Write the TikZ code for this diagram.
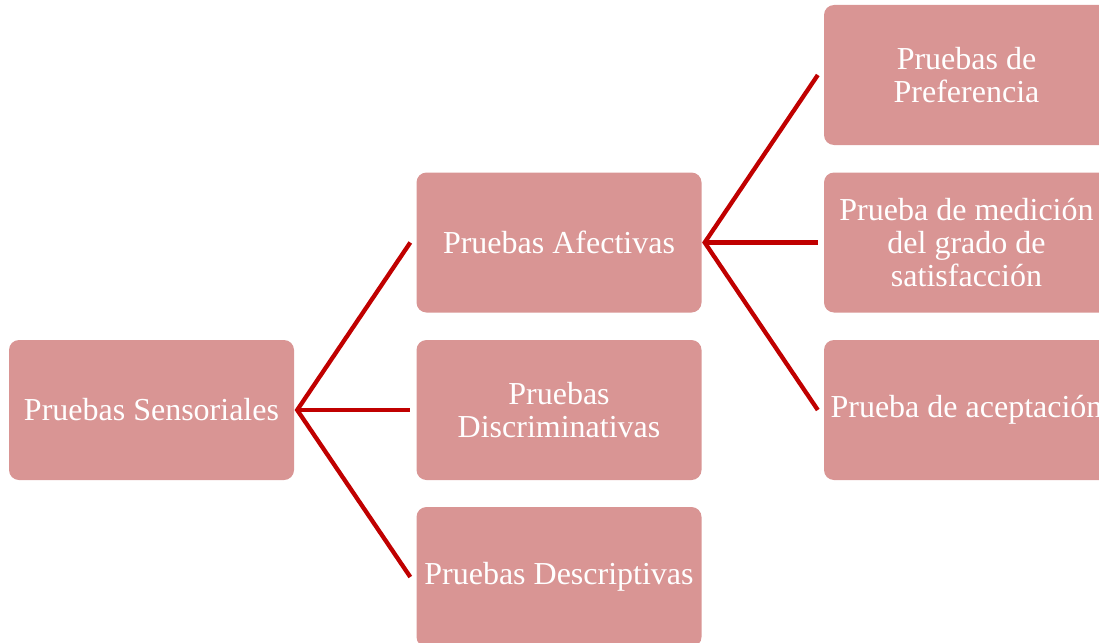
\documentclass[tikz,border=0pt]{standalone}
\usepackage{fontspec}
\setmainfont{Liberation Serif}

\definecolor{boxfill}{HTML}{D99594}
\definecolor{linkred}{HTML}{C00000}

\tikzset{box/.style={rectangle, rounded corners=10pt, fill=boxfill, text=white,
		minimum width=285pt, minimum height=140pt, inner sep=0pt, align=center,
		font=\fontsize{32}{33}\selectfont}}
\tikzset{link/.style={draw=linkred, line width=4.3pt}}

\begin{document}
\begin{tikzpicture}[x=1pt, y=-1pt]
			\useasboundingbox (0,0) rectangle (1099,642);
			\clip (0,0) rectangle (1099,642);
			
			% Root
			\node[box] (root) at (151.5,410) {Pruebas Sensoriales};
			
			% Middle column
			\node[box] (afect) at (559,242.5) {Pruebas Afectivas};
			\node[box] (discr) at (559,410) {Pruebas\\Discriminativas};
			\node[box] (descr) at (559,577) {Pruebas Descriptivas};
			
			% Right column
			\node[box] (pref) at (966.5,75) {Pruebas de\\Preferencia};
			\node[box] (satis) at (966.5,242.5) {Prueba de medición\\del grado de\\satisfacción};
			\node[box] (acept) at (966.5,410) {Prueba de aceptación};
			
			% Links from root
			\draw[link] ([xshift=-6pt]afect.west) -- ([xshift=3pt]root.east) -- ([xshift=-6pt]descr.west);
			\draw[link] ([xshift=3pt]root.east) -- ([xshift=-6pt]discr.west);
			
			% Links from Afectivas
			\draw[link] ([xshift=-6pt]pref.west) -- ([xshift=3pt]afect.east) -- ([xshift=-6pt]acept.west);
			\draw[link] ([xshift=3pt]afect.east) -- ([xshift=-6pt]satis.west);
		\end{tikzpicture}
\end{document}
